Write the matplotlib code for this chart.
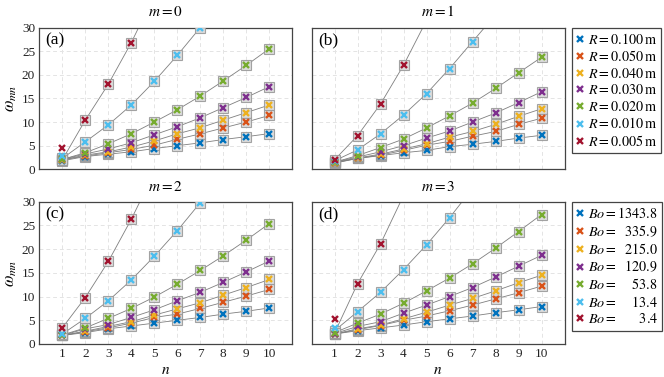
import matplotlib
matplotlib.use("Agg")
import matplotlib.pyplot as plt
import numpy as np

plt.rcParams['font.family'] = ['Liberation Serif', 'DejaVu Serif']
plt.rcParams['mathtext.fontset'] = 'stix'

n = np.arange(1, 11)
colors = ['#0072BD', '#D95319', '#EDB120', '#7E2F8E', '#77AC30', '#4DBEEE', '#A2142F']
radii = ['0.100', '0.050', '0.040', '0.030', '0.020', '0.010', '0.005']
bond = ['1343.8', '335.9', '215.0', '120.9', '53.8', '13.4', '3.4']
titles = ['$m = 0$', '$m = 1$', '$m = 2$', '$m = 3$']
tags = ['(a)', '(b)', '(c)', '(d)']

# omega_mn, one row per radius (values above 30 only carry the line)
w_a = [[1.8, 2.7, 3.2, 3.7, 4.4, 5.0, 5.6, 6.3, 6.9, 7.55],
       [2.0, 2.8, 3.5, 4.2, 5.1, 6.35, 7.5, 8.75, 10.0, 11.4],
       [2.0, 3.0, 3.7, 4.7, 6.0, 7.5, 8.8, 10.4, 12.0, 13.6],
       [2.1, 3.25, 4.3, 5.6, 7.3, 9.0, 10.9, 13.05, 15.2, 17.5],
       [2.1, 3.5, 5.4, 7.5, 10.0, 12.6, 15.5, 18.7, 22.0, 25.5],
       [2.9, 5.8, 9.4, 13.6, 18.6, 24.1, 30.0, 36.5, 43.5, 51.0],
       [4.5, 10.4, 18.0, 26.8, 36.8, 47.8, 60.0, 73.0, 87.0, 102.0]]
w_b = [[1.3, 2.3, 2.9, 3.5, 4.0, 4.8, 5.3, 5.9, 6.6, 7.2],
       [1.4, 2.3, 3.0, 4.0, 5.1, 5.9, 7.0, 8.0, 9.5, 10.8],
       [1.4, 2.4, 3.2, 4.3, 5.4, 6.8, 8.0, 9.5, 11.2, 12.8],
       [1.5, 2.6, 3.7, 5.0, 6.6, 8.1, 10.0, 11.9, 14.1, 16.4],
       [1.5, 2.9, 4.6, 6.4, 8.75, 11.3, 14.0, 17.1, 20.4, 23.7],
       [1.8, 4.1, 7.5, 11.5, 16.0, 21.3, 27.0, 32.7, 39.0, 45.5],
       [2.0, 7.1, 13.8, 22.0, 31.5, 42.0, 53.5, 66.0, 79.5, 94.0]]
w_c = [[1.8, 2.4, 3.2, 3.8, 4.4, 5.0, 5.6, 6.3, 6.9, 7.6],
       [1.8, 2.6, 3.4, 4.4, 5.6, 6.3, 7.5, 8.8, 10.1, 11.5],
       [1.8, 2.7, 3.7, 4.7, 6.1, 7.4, 8.7, 10.3, 11.9, 13.6],
       [1.8, 3.2, 4.1, 5.6, 7.2, 9.1, 10.9, 13.0, 15.2, 17.5],
       [1.9, 3.4, 5.4, 7.5, 9.9, 12.6, 15.5, 18.6, 21.9, 25.4],
       [2.1, 5.4, 9.1, 13.5, 18.5, 23.9, 29.8, 36.2, 43.0, 50.5],
       [3.4, 9.8, 17.4, 26.3, 36.2, 47.0, 59.0, 72.0, 86.0, 101.0]]
w_d = [[2.1, 2.8, 3.4, 4.0, 4.7, 5.3, 5.9, 6.6, 7.2, 7.9],
       [2.1, 3.0, 3.9, 5.0, 5.9, 7.0, 8.2, 9.5, 10.8, 12.2],
       [2.1, 3.2, 4.0, 5.3, 6.7, 8.2, 9.6, 11.2, 12.9, 14.5],
       [2.2, 3.7, 4.7, 6.5, 8.2, 10.0, 11.9, 14.1, 16.4, 18.7],
       [2.4, 4.4, 6.3, 8.6, 11.2, 13.9, 16.9, 20.2, 23.7, 27.3],
       [3.3, 6.8, 10.9, 15.7, 20.9, 26.6, 32.8, 39.5, 46.5, 54.0],
       [5.2, 12.7, 21.1, 31.3, 41.5, 52.5, 65.0, 78.5, 93.0, 108.0]]
# model value at n = 1 (grey squares), where it differs from the measured one
th1_a = [1.8, 2.0, 2.0, 2.1, 2.1, 2.3, 2.0]
th1_b = [1.3, 1.4, 1.4, 1.5, 1.5, 1.8, 2.0]
th1_c = [1.8, 1.8, 1.8, 1.8, 1.9, 2.1, 3.4]
th1_d = [2.1, 2.1, 2.1, 2.2, 2.4, 2.8, 2.3]

W, H = 664, 377
fig = plt.figure(figsize=(W / 100, H / 100), dpi=100)

def px(l, t, r, b):
    return [l / W, 1 - b / H, (r - l) / W, (b - t) / H]

boxes = [px(39.3, 27.5, 292.3, 169.3), px(311.5, 27.5, 564.5, 169.3),
         px(39.3, 201.7, 292.3, 344), px(311.5, 201.7, 564.5, 344)]
panels = [(w_a, th1_a), (w_b, th1_b), (w_c, th1_c), (w_d, th1_d)]

axes = []
for k, (data, th1) in enumerate(panels):
    ax = fig.add_axes(boxes[k])
    axes.append(ax)
    for i in range(len(colors)):
        th = np.array(data[i], dtype=float)
        th[0] = th1[i]
        ax.plot(n, th, '-', color='#7f7f7f', lw=0.6, zorder=2)
        ax.plot(n, th, 's', ms=6.5, mfc='#d9d9d9', mec='#9a9a9a', mew=0.8, alpha=0.9, zorder=3)
        ax.plot(n, data[i], 'x', color=colors[i], ms=4.5, mew=1.7, zorder=4,
                label=r'$R = %s\,\mathrm{m}$' % radii[i])
    ax.set_xlim(0, 11)
    ax.set_ylim(0, 30)
    ax.set_xticks(np.arange(1, 11))
    ax.set_yticks(np.arange(0, 31, 5))
    ax.grid(True, ls=(0, (4, 3)), color='#e4e4e4', lw=0.7)
    ax.set_axisbelow(True)
    ax.tick_params(length=0, labelsize=9.5, pad=3, colors='#222222')
    for s in ax.spines.values():
        s.set_color('#444444')
        s.set_linewidth(0.9)
    ax.set_title(titles[k], fontsize=11, pad=8)
    ax.text(0.025, 0.965, tags[k], transform=ax.transAxes, fontsize=12.5, va='top', ha='left')
    if k < 2:
        ax.set_xticklabels([])
    else:
        ax.set_xlabel('$n$', fontsize=11, labelpad=3)
    if k % 2 == 1:
        ax.set_yticklabels([])
    else:
        ax.set_ylabel(r'$\omega_{mn}$', fontsize=12, labelpad=2)

leg = axes[1].legend(loc='upper left', bbox_to_anchor=(572 / W, 1 - 27.5 / H),
                     bbox_transform=fig.transFigure, borderaxespad=0, fontsize=10.2,
                     handlelength=0.55, handletextpad=0.25, labelspacing=0.18,
                     borderpad=0.3, fancybox=False, edgecolor='#444444', framealpha=1)
leg.get_frame().set_linewidth(0.9)

handles = axes[3].get_legend_handles_labels()[0]
labels = []
for b in bond:
    gap = (6 - len(b)) * 0.7
    labels.append(r'$Bo =\hspace{%.2f}%s$' % (gap, b) if gap > 0 else r'$Bo = %s$' % b)
leg2 = axes[3].legend(handles, labels, loc='upper left', bbox_to_anchor=(572 / W, 1 - 201.7 / H),
                      bbox_transform=fig.transFigure, borderaxespad=0, fontsize=10.2,
                      handlelength=0.55, handletextpad=0.25, labelspacing=0.18,
                      borderpad=0.3, fancybox=False, edgecolor='#444444', framealpha=1)
leg2.get_frame().set_linewidth(0.9)

fig.savefig('out.png', dpi=100)
